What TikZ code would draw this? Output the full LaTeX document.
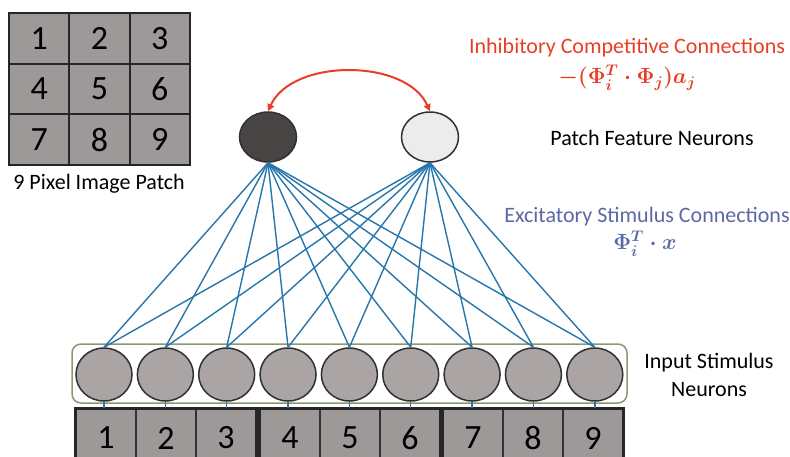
\RequirePackage{fix-cm}
\documentclass[tikz,border=0pt]{standalone}
\usepackage[no-math]{fontspec}
\setmainfont{Carlito}
\usetikzlibrary{shapes.geometric,arrows.meta}

\definecolor{wireblue}{RGB}{38,118,172}
\definecolor{inhibred}{RGB}{232,62,38}
\definecolor{excitblue}{RGB}{92,104,166}
\definecolor{cellgray}{RGB}{158,153,153}
\definecolor{neurongray}{RGB}{170,164,164}
\definecolor{darkneuron}{RGB}{72,68,68}
\definecolor{lightneuron}{RGB}{236,236,236}
\definecolor{framegreen}{RGB}{140,152,112}
\definecolor{edgegray}{RGB}{50,48,48}

\tikzset{
  pixelcell/.style={draw=black!85, line width=2pt, fill=cellgray,
    minimum width=60.3pt, minimum height=50.7pt, inner sep=0pt,
    font=\fontsize{34}{36}\selectfont},
  inputcell/.style={draw=edgegray, line width=1.5pt, fill=cellgray,
    minimum width=60pt, minimum height=58pt, inner sep=0pt,
    font=\fontsize{34}{36}\selectfont},
  groupframe/.style={draw=black!85, line width=2.8pt},
  feature/.style={ellipse, draw=edgegray, line width=1.5pt,
    minimum width=57pt, minimum height=50pt, inner sep=0pt},
  inputneuron/.style={ellipse, draw=edgegray, line width=1.5pt, fill=neurongray,
    minimum width=56pt, minimum height=53pt, inner sep=0pt},
  wire/.style={draw=wireblue, line width=1.4pt},
  inhib/.style={draw=inhibred, line width=2pt, {Triangle[width=7pt,length=7pt]}-{Triangle[width=7pt,length=7pt]}},
  lbl/.style={font=\fontsize{22}{26}\selectfont, align=center, inner sep=0pt},
  formula/.style={font=\fontsize{22}{26}\selectfont\boldmath, inner sep=0pt}
}

\begin{document}
\begin{tikzpicture}[x=1pt,y=-1pt]
\useasboundingbox (0,0) rectangle (790,456);
\clip (0,0) rectangle (790,456);

% 3x3 image patch
\foreach \r in {0,1,2} {
  \foreach \c in {0,1,2} {
    \pgfmathtruncatemacro\k{3*\r+\c+1}
    \node[pixelcell] (g\k) at ({39.2+60.3*\c},{38.3+50.7*\r}) {\k};
  }
}
\node[lbl] (patchlbl) at (99,184) {9 Pixel Image Patch};

% patch feature neurons
\node[feature, fill=darkneuron] (f1) at (268,137) {};
\node[feature, fill=lightneuron] (f2) at (430,137) {};
\draw[inhib] (f1.north) .. controls +(24,-53) and +(-24,-53) .. (f2.north);

% input stimulus layer
\draw[framegreen, line width=1.5pt, rounded corners=9pt] (72,344) rectangle (627,403);
\foreach \k in {1,...,9} {
  \node[inputneuron] (n\k) at ({104+61.35*(\k-1)},374.5) {};
}

% pixel cells feeding the input neurons, in three rows of three
\foreach \g/\x in {0/76,1/260,2/443} {
  \foreach \c in {0,1,2} {
    \pgfmathtruncatemacro\k{3*\g+\c+1}
    \node[inputcell] (b\k) at ({\x+30+60*\c},438) {\k};
  }
}
\draw[groupframe] (b1.north west) rectangle (b3.south east);
\draw[groupframe] (b4.north west) rectangle (b6.south east);
\draw[groupframe] (b7.north west) rectangle (b9.south east);

% excitatory connections
\foreach \k in {1,...,9} {
  \draw[wire] (f1.south) -- (n\k.north);
  \draw[wire] (f2.south) -- (n\k.north);
  \draw[wire] (n\k.south) -- (n\k.south |- b\k.north);
}

% labels
\node[lbl, text=inhibred] (inhiblbl) at (627,48) {Inhibitory Competitive Connections};
\node[formula, text=inhibred] (inhibeq) at (627,78) {$-(\Phi_i^T\cdot\Phi_j)a_j$};
\node[lbl] (featlbl) at (652,138) {Patch Feature Neurons};
\node[lbl, text=excitblue] (excitlbl) at (647,217) {Excitatory Stimulus Connections};
\node[formula, text=excitblue] (exciteq) at (645,244) {$\Phi_i^T\cdot x$};
\node[lbl] (inputlbl) at (709,375) {Input Stimulus\\[2pt]Neurons};
\end{tikzpicture}
\end{document}
